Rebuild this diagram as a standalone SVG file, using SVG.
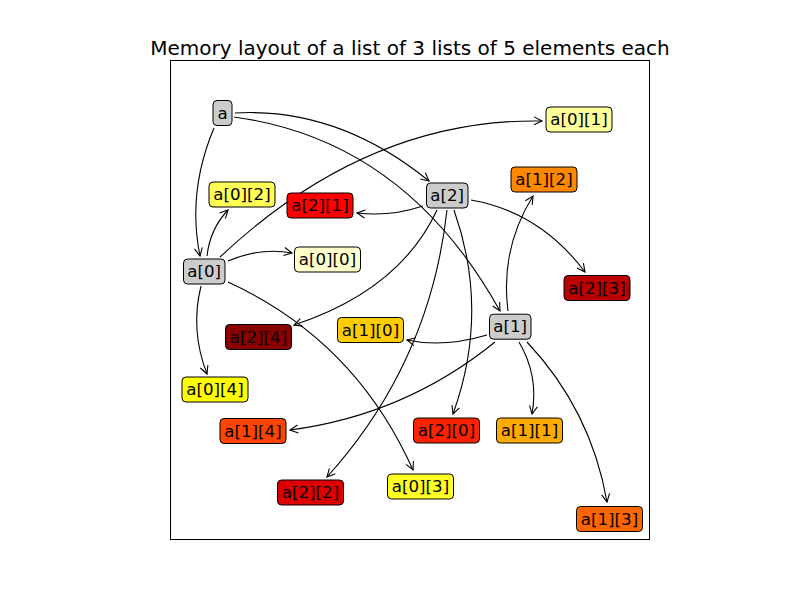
<svg xmlns="http://www.w3.org/2000/svg" width="800" height="600" viewBox="0 0 800 600">
<defs>
<marker id="ah" markerUnits="userSpaceOnUse" markerWidth="20" markerHeight="20" refX="0" refY="0" viewBox="-10 -10 20 20" orient="auto" overflow="visible">
<path d="M-8,-4 L0,0 L-8,4" fill="none" stroke="#000" stroke-width="1.1"/>
</marker>
</defs>
<style>
.box{stroke:#000;stroke-width:1}
.lbl{font-family:"DejaVu Sans",sans-serif;font-size:16.67px;text-anchor:middle;fill:#000}
.edge{fill:none;stroke:#000;stroke-width:1.1;marker-end:url(#ah)}
.ptr{fill:#cccccc}
</style>
<rect width="800" height="600" fill="#fff"/>
<rect x="170.5" y="60.5" width="479" height="479" fill="#fff" stroke="#000" stroke-width="1"/>
<text x="410" y="55" font-family="DejaVu Sans, sans-serif" font-size="20" text-anchor="middle">Memory layout of a list of 3 lists of 5 elements each</text>

<g id="connectors">
<path class="edge" d="M214,128 Q187,192 200,256"/>
<path class="edge" d="M235,113 Q338,107 429,181"/>
<path class="edge" d="M234,117 Q405,140 500,311"/>
<path class="edge" d="M228,261 Q261,247 292,253"/>
<path class="edge" d="M220,257 Q368,118 542,121"/>
<path class="edge" d="M207,256 Q210,229 228,210"/>
<path class="edge" d="M228,282 Q355,340 413,470"/>
<path class="edge" d="M201,286 Q190,330 207,374"/>
<path class="edge" d="M423,206 Q390,217 357,213"/>
<path class="edge" d="M437,210 Q400,290 294,325"/>
<path class="edge" d="M447,210 Q430,363 327,477"/>
<path class="edge" d="M454,210 Q490,312 453,414"/>
<path class="edge" d="M471,200 Q540,212 585,272"/>
<path class="edge" d="M487,335 Q443,348 407,340"/>
<path class="edge" d="M508,311 Q500,249 533,196"/>
<path class="edge" d="M519,342 Q539,376 532,414"/>
<path class="edge" d="M527,342 Q591,410 607,502"/>
<path class="edge" d="M495,342 Q405,415 290,430"/>
</g>

<g id="n_a"><rect class="box ptr" x="213" y="100.5" width="19" height="25" rx="4"/><text class="lbl" x="222.5" y="118.5">a</text></g>
<g id="n_a0"><rect class="box ptr" x="183.5" y="259" width="41.5" height="25" rx="4"/><text class="lbl" x="204.2" y="276.7">a[0]</text></g>
<g id="n_a1"><rect class="box ptr" x="489.5" y="314.2" width="41.5" height="25" rx="4"/><text class="lbl" x="510.2" y="332.2">a[1]</text></g>
<g id="n_a2"><rect class="box ptr" x="426.5" y="183" width="41.5" height="25" rx="4"/><text class="lbl" x="447.2" y="201">a[2]</text></g>

<g id="n_a00"><rect class="box" fill="#ffffcc" x="294.5" y="247" width="66" height="25" rx="4"/><text class="lbl" x="327.5" y="265">a[0][0]</text></g>
<g id="n_a01"><rect class="box" fill="#ffff99" x="546" y="107" width="66" height="25" rx="4"/><text class="lbl" x="579" y="125">a[0][1]</text></g>
<g id="n_a02"><rect class="box" fill="#ffff55" x="209" y="182" width="66" height="25" rx="4"/><text class="lbl" x="242" y="200">a[0][2]</text></g>
<g id="n_a03"><rect class="box" fill="#ffff22" x="387.5" y="474" width="66" height="25" rx="4"/><text class="lbl" x="420.5" y="492">a[0][3]</text></g>
<g id="n_a04"><rect class="box" fill="#ffff00" x="182" y="377" width="66" height="25" rx="4"/><text class="lbl" x="215" y="395">a[0][4]</text></g>
<g id="n_a10"><rect class="box" fill="#ffcc00" x="337.5" y="317.5" width="66" height="25" rx="4"/><text class="lbl" x="370.5" y="335.5">a[1][0]</text></g>
<g id="n_a11"><rect class="box" fill="#ffaa00" x="496.5" y="418" width="66" height="25" rx="4"/><text class="lbl" x="529.5" y="436">a[1][1]</text></g>
<g id="n_a12"><rect class="box" fill="#ff8800" x="511" y="167" width="66" height="25" rx="4"/><text class="lbl" x="544" y="185">a[1][2]</text></g>
<g id="n_a13"><rect class="box" fill="#ff6600" x="576.5" y="506.5" width="66" height="25" rx="4"/><text class="lbl" x="609.5" y="524.5">a[1][3]</text></g>
<g id="n_a14"><rect class="box" fill="#ff4400" x="220" y="418.5" width="66" height="25" rx="4"/><text class="lbl" x="253" y="436.5">a[1][4]</text></g>
<g id="n_a20"><rect class="box" fill="#ff2200" x="413.5" y="418" width="66" height="25" rx="4"/><text class="lbl" x="446.5" y="436">a[2][0]</text></g>
<g id="n_a21"><rect class="box" fill="#ff0000" x="287" y="193" width="66" height="25" rx="4"/><text class="lbl" x="320" y="211">a[2][1]</text></g>
<g id="n_a22"><rect class="box" fill="#dd0000" x="277.5" y="480" width="66" height="25" rx="4"/><text class="lbl" x="310.5" y="498">a[2][2]</text></g>
<g id="n_a23"><rect class="box" fill="#bb0000" x="564" y="275.5" width="66" height="25" rx="4"/><text class="lbl" x="597" y="293.5">a[2][3]</text></g>
<g id="n_a24"><rect class="box" fill="#880000" x="225.5" y="324.5" width="66" height="25" rx="4"/><text class="lbl" x="258.5" y="342.5">a[2][4]</text></g>
</svg>
